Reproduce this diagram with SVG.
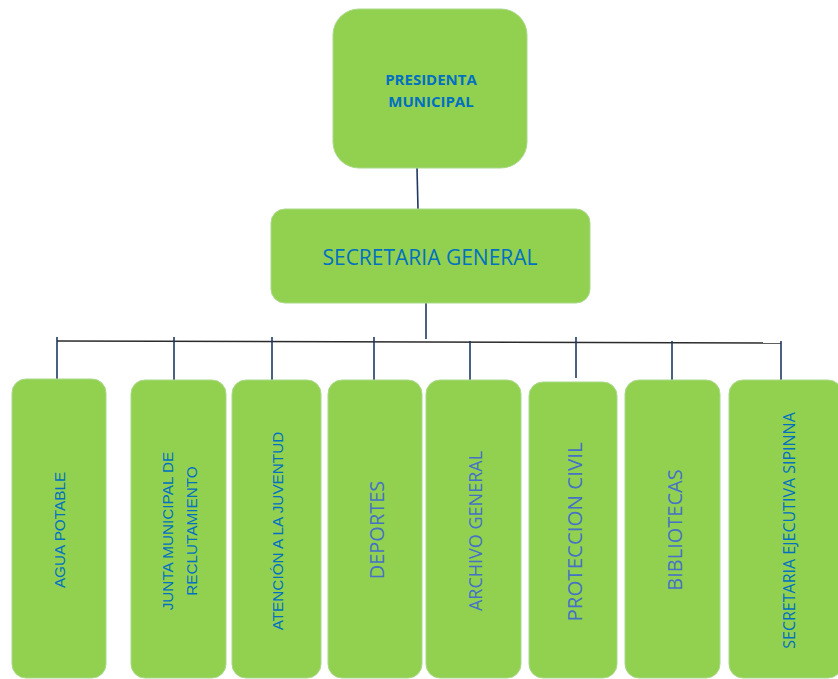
<svg xmlns="http://www.w3.org/2000/svg" width="838" height="679" viewBox="0 0 838 679">
<style>
.box{fill:#92D050;stroke:#A9D98A;stroke-width:1}
.v{stroke:#1F3864;stroke-width:1.6;fill:none}
.h{stroke:#2B2B2B;stroke-width:1.6;fill:none}
.a{font-family:"Liberation Sans",Arial,sans-serif;font-size:15.3px;fill:#0070C0;text-anchor:middle}
.o{font-family:"Open Sans","Noto Sans",sans-serif;fill:#4472C4;text-anchor:middle}
.t{font-family:"Open Sans","Noto Sans",sans-serif;font-weight:bold;font-size:15px;fill:#0070C0;text-anchor:middle}
</style>
<rect width="838" height="679" fill="#FFFFFF"/>
<g id="connectors">
<line class="v" x1="417" y1="168" x2="418" y2="209"/>
<line class="v" x1="426" y1="297" x2="426" y2="339"/>
<line class="h" x1="57" y1="341" x2="781" y2="343"/>
<line class="v" x1="57" y1="337" x2="57" y2="379"/>
<line class="v" x1="174" y1="337" x2="174" y2="380"/>
<line class="v" x1="272" y1="337" x2="272" y2="380"/>
<line class="v" x1="374" y1="337" x2="374" y2="380"/>
<line class="v" x1="470" y1="341" x2="470" y2="381"/>
<line class="v" x1="576" y1="337" x2="576" y2="378"/>
<line class="v" x1="672" y1="341" x2="672" y2="381"/>
<line class="v" x1="781" y1="341" x2="781" y2="381"/>
</g>
<g id="presidenta">
<rect class="box" x="333" y="9" width="194" height="159" rx="26"/>
<text class="t" x="431" y="85">PRESIDENTA</text>
<text class="t" x="431" y="107">MUNICIPAL</text>
</g>
<g id="secretaria-general">
<rect class="box" x="271" y="209" width="319" height="94" rx="14"/>
<text class="o" x="430" y="265" style="font-size:21px;fill:#0070C0">SECRETARIA GENERAL</text>
</g>
<g id="agua-potable">
<rect class="box" x="12" y="379" width="94" height="299" rx="14"/>
<text class="a" transform="translate(65,530) rotate(-90)">AGUA POTABLE</text>
</g>
<g id="junta-municipal">
<rect class="box" x="131" y="380" width="95" height="298" rx="14"/>
<text class="a" transform="translate(173,531) rotate(-90)">JUNTA MUNICIPAL DE</text>
<text class="a" transform="translate(197,531) rotate(-90)">RECLUTAMIENTO</text>
</g>
<g id="atencion-juventud">
<rect class="box" x="232" y="380" width="89" height="298" rx="14"/>
<text class="a" transform="translate(283,531) rotate(-90)">ATENCIÓN A LA JUVENTUD</text>
</g>
<g id="deportes">
<rect class="box" x="328" y="380" width="94" height="298" rx="14"/>
<text class="o" style="font-size:20px" transform="translate(384,530) rotate(-90)">DEPORTES</text>
</g>
<g id="archivo-general">
<rect class="box" x="426" y="380" width="95" height="298" rx="14"/>
<text class="o" style="font-size:18px" transform="translate(481.5,531) rotate(-90)">ARCHIVO GENERAL</text>
</g>
<g id="proteccion-civil">
<rect class="box" x="529" y="382" width="88" height="296" rx="14"/>
<text class="o" style="font-size:20.5px" transform="translate(582,532) rotate(-90)">PROTECCION CIVIL</text>
</g>
<g id="bibliotecas">
<rect class="box" x="625" y="380" width="95" height="298" rx="14"/>
<text class="o" style="font-size:20px" transform="translate(681.5,530) rotate(-90)">BIBLIOTECAS</text>
</g>
<g id="secretaria-sipinna">
<rect class="box" x="729" y="380" width="113" height="298" rx="14"/>
<text class="o" style="font-size:16px;fill:#0070C0" transform="translate(795,530.5) rotate(-90)">SECRETARIA EJECUTIVA SIPINNA</text>
</g>
</svg>
